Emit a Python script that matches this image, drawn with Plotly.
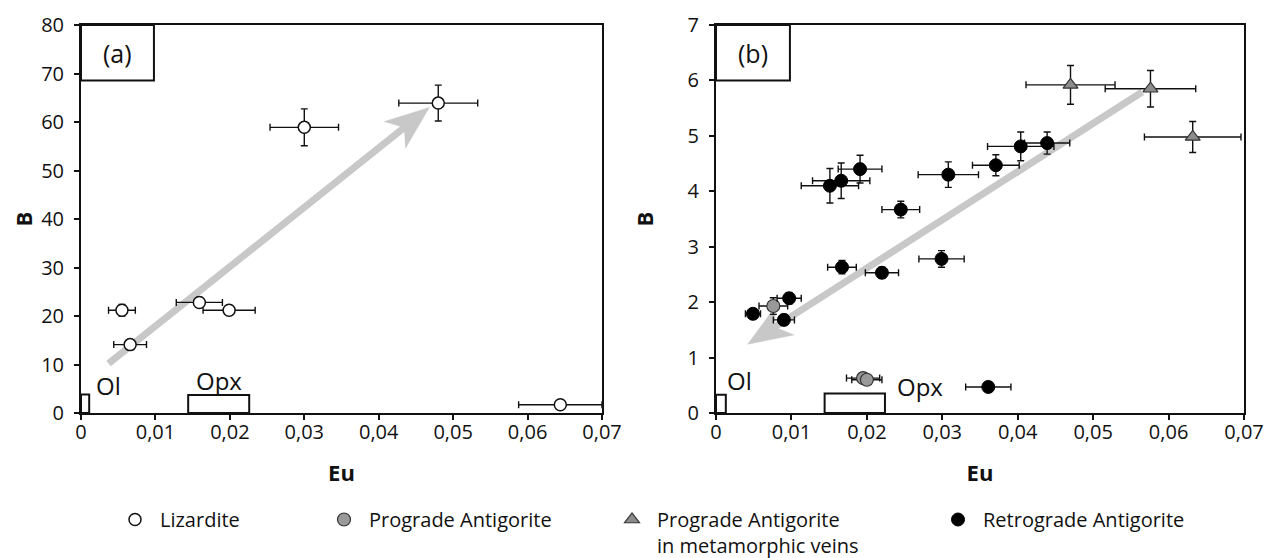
import plotly.graph_objects as go
import math

# --- (a) Lizardite ---
liz_eu = [0.0055, 0.0066, 0.0159, 0.0199, 0.0300, 0.0480, 0.0644]
liz_b = [21.2, 14.1, 22.8, 21.2, 58.9, 63.9, 1.7]
liz_eu_err = [0.0018, 0.0022, 0.0031, 0.0035, 0.0046, 0.0053, 0.0056]
liz_b_err = [1.2, 1.0, 1.0, 1.0, 3.8, 3.7, 0.5]

# --- (b) Prograde Antigorite ---
pro_eu = [0.0076, 0.0195, 0.0200]
pro_b = [1.93, 0.63, 0.60]
pro_eu_err = [0.0019, 0.0022, 0.0020]
pro_b_err = [0.15, 0.08, 0.08]

# --- (b) Prograde Antigorite in metamorphic veins ---
vein_eu = [0.0470, 0.0576, 0.0632]
vein_b = [5.92, 5.85, 4.98]
vein_eu_err = [0.0059, 0.0060, 0.0064]
vein_b_err = [0.35, 0.33, 0.28]

# --- (b) Retrograde Antigorite ---
ret_eu = [0.0049, 0.0090, 0.0097, 0.0167, 0.0220, 0.0299, 0.0245, 0.0151,
          0.0166, 0.0191, 0.0308, 0.0371, 0.0404, 0.0439, 0.0361]
ret_b = [1.79, 1.68, 2.07, 2.63, 2.53, 2.78, 3.67, 4.10,
         4.19, 4.40, 4.30, 4.47, 4.81, 4.87, 0.47]
ret_eu_err = [0.0010, 0.0014, 0.0016, 0.0019, 0.0022, 0.0030, 0.0025, 0.0038,
              0.0038, 0.0029, 0.0040, 0.0031, 0.0044, 0.0030, 0.0030]
ret_b_err = [0.06, 0.10, 0.10, 0.12, 0.10, 0.15, 0.15, 0.31,
             0.32, 0.25, 0.23, 0.19, 0.26, 0.20, 0.05]

# trend arrows (tail, head)
arrow_a = [(0.0037, 10.2), (0.0468, 63.0)]
arrow_b = [(0.0565, 5.79), (0.0042, 1.24)]

# mineral ranges: name, eu range, B range, label position
min_a = [("Ol", [0, 0.0011], [0, 3.8], (0.0037, 5.6)),
         ("Opx", [0.0144, 0.0226], [0, 3.7], (0.0186, 6.8))]
min_b = [("Ol", [0, 0.0013], [0, 0.33], (0.0031, 0.58)),
         ("Opx", [0.0144, 0.0224], [0, 0.35], (0.0271, 0.47))]

FONT = "Open Sans"
ink = "#111111"
# page has an 8px body margin, so the figure is a bit smaller than the window
OFF = 8
W, H = 1283 - OFF, 558 - OFF


def px_x(p):
    return (p - OFF) / W


def px_y(p):
    return 1 - (p - OFF) / H


dom_a = [px_x(81), px_x(602)]
dom_b = [px_x(716), px_x(1244)]
dom_y = [px_y(413), px_y(25)]
x_rng = [0, 0.07]
ya_rng = [0, 80]
yb_rng = [0, 7]


def err(vals):
    return dict(type="data", array=vals, color=ink, thickness=1.4, width=3.5)


def arrow_shapes(arr, xref, yref, xdom, yrng):
    # pixels per data unit on this subplot
    sx = (xdom[1] - xdom[0]) * W / (x_rng[1] - x_rng[0])
    sy = (dom_y[1] - dom_y[0]) * H / (yrng[1] - yrng[0])
    (tx, ty), (hx, hy) = arr
    px, py = tx * sx, ty * sy
    qx, qy = hx * sx, hy * sy
    d = math.hypot(qx - px, qy - py)
    ux, uy = (qx - px) / d, (qy - py) / d
    nx, ny = -uy, ux
    L, Wd, notch = 44, 17, 12
    bx, by = qx - L * ux, qy - L * uy
    w1 = (bx + Wd * nx, by + Wd * ny)
    w2 = (bx - Wd * nx, by - Wd * ny)
    mx, my = qx - (L - notch) * ux, qy - (L - notch) * uy
    pts = [(qx, qy), w1, (mx, my), w2]
    path = "M " + " L ".join(f"{x / sx},{y / sy}" for x, y in pts) + " Z"
    grey = "#c8c8c8"
    return [
        dict(type="line", xref=xref, yref=yref, x0=tx, y0=ty, x1=(mx + 2 * ux) / sx, y1=(my + 2 * uy) / sy,
             line=dict(color=grey, width=7), layer="below"),
        dict(type="path", xref=xref, yref=yref, path=path, fillcolor=grey,
             line=dict(color=grey, width=0.5), layer="below"),
    ]


fig = go.Figure()

fig.add_trace(go.Scatter(
    x=liz_eu, y=liz_b, mode="markers", name="Lizardite", showlegend=True,
    error_x=err(liz_eu_err), error_y=err(liz_b_err),
    marker=dict(symbol="circle", size=12, color="white", line=dict(color=ink, width=1.5)),
    xaxis="x", yaxis="y", legend="legend"))

fig.add_trace(go.Scatter(
    x=pro_eu, y=pro_b, mode="markers", name="Prograde Antigorite", showlegend=True,
    error_x=err(pro_eu_err), error_y=err(pro_b_err),
    marker=dict(symbol="circle", size=13, color="#999999", line=dict(color="#333333", width=1.2)),
    xaxis="x2", yaxis="y2", legend="legend2"))

fig.add_trace(go.Scatter(
    x=vein_eu, y=vein_b, mode="markers", name="Prograde Antigorite<br>in metamorphic veins",
    showlegend=True,
    error_x=err(vein_eu_err), error_y=err(vein_b_err),
    marker=dict(symbol="triangle-up", size=13, color="#8c8c8c", line=dict(color="#333333", width=1.2)),
    xaxis="x2", yaxis="y2", legend="legend3"))

fig.add_trace(go.Scatter(
    x=ret_eu, y=ret_b, mode="markers", name="Retrograde Antigorite", showlegend=True,
    error_x=err(ret_eu_err), error_y=err(ret_b_err),
    marker=dict(symbol="circle", size=13, color="black", line=dict(color="black", width=1)),
    xaxis="x2", yaxis="y2", legend="legend4"))

shapes = []
annotations = []

shapes += arrow_shapes(arrow_a, "x", "y", dom_a, ya_rng)
shapes += arrow_shapes(arrow_b, "x2", "y2", dom_b, yb_rng)

for (nm, xr, yr, lp), xr_ref, yr_ref in [(m, "x", "y") for m in min_a] + [(m, "x2", "y2") for m in min_b]:
    shapes.append(dict(type="rect", xref=xr_ref, yref=yr_ref, x0=xr[0], x1=xr[1],
                       y0=yr[0], y1=yr[1], line=dict(color=ink, width=2), fillcolor="white"))
    annotations.append(dict(xref=xr_ref, yref=yr_ref, x=lp[0], y=lp[1], text=nm,
                            xanchor="center", yanchor="middle",
                            showarrow=False, font=dict(family=FONT, size=24, color=ink)))

for lab, xd, yd in [("(a)", "x domain", "y domain"), ("(b)", "x2 domain", "y2 domain")]:
    shapes.append(dict(type="rect", xref=xd, yref=yd, x0=0, x1=0.14, y0=0.857, y1=1,
                       line=dict(color=ink, width=2), fillcolor="white"))
    annotations.append(dict(xref=xd, yref=yd, x=0.07, y=0.928, text=lab, showarrow=False,
                            xanchor="center", yanchor="middle",
                            font=dict(family=FONT, size=25, color=ink)))

ax_style = dict(showline=True, linewidth=2, linecolor=ink, mirror=True, showgrid=False,
                zeroline=False, ticks="outside", ticklen=5, tickwidth=2, tickcolor=ink,
                automargin=False, tickfont=dict(family=FONT, size=20, color=ink))
title_font = dict(family=FONT, size=22, color=ink, weight="bold")

fig.update_layout(
    width=W, height=H,
    margin=dict(l=0, r=0, t=0, b=0, autoexpand=False),
    paper_bgcolor="white", plot_bgcolor="white",
    separators=", ",
    showlegend=True,
    font=dict(family=FONT, color=ink),
    xaxis=dict(domain=dom_a, range=x_rng, dtick=0.01, anchor="y", ticklabelstandoff=-5,
               title=dict(text="Eu", font=title_font, standoff=22), **ax_style),
    yaxis=dict(domain=dom_y, range=ya_rng, dtick=10, anchor="x", ticklabelstandoff=6,
               title=dict(text="B", font=title_font, standoff=28), **ax_style),
    xaxis2=dict(domain=dom_b, range=x_rng, dtick=0.01, anchor="y2", ticklabelstandoff=-5,
                title=dict(text="Eu", font=title_font, standoff=22), **ax_style),
    yaxis2=dict(domain=dom_y, range=yb_rng, dtick=1, anchor="x2", ticklabelstandoff=6,
                title=dict(text="B", font=title_font, standoff=28), **ax_style),
    shapes=shapes,
    annotations=annotations,
)

leg_font = dict(family=FONT, size=20, color=ink)
for key, sx in [("legend", 135), ("legend2", 344), ("legend3", 632), ("legend4", 958)]:
    fig.update_layout({key: dict(x=px_x(sx - 25), xanchor="left", y=px_y(500), yanchor="top",
                                 itemwidth=40, valign="top", font=leg_font, visible=True,
                                 bgcolor="rgba(0,0,0,0)")})

fig.write_html("out.html")
